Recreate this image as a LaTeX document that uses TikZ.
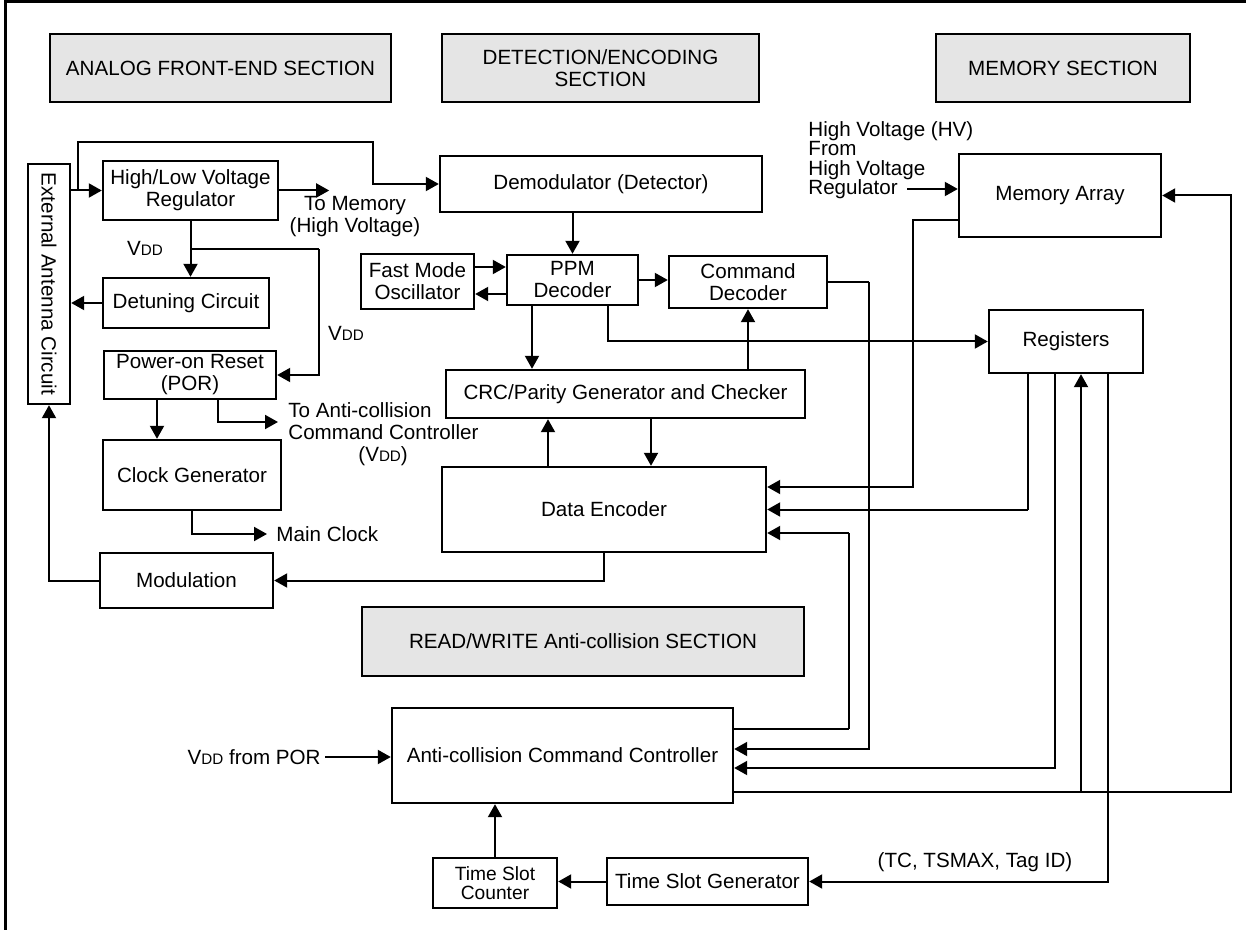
\documentclass[tikz,border=0pt]{standalone}
\usepackage{fontspec}
\setmainfont{Liberation Sans}
\usepackage{graphicx}
\usetikzlibrary{arrows.meta}
\definecolor{secgray}{gray}{0.9}
\newcommand{\vdd}{V{\fontsize{7.6}{8}\selectfont DD}}

\begin{document}
\begin{tikzpicture}[x=0.5pt,y=-0.5pt,
    box/.style={draw,line width=1.2pt,inner sep=0pt,align=center,font=\fontsize{10.3}{11}\selectfont},
    secbox/.style={box,fill=secgray},
    wire/.style={line width=1pt},
    thinwire/.style={line width=0.6pt},
    arr/.style={wire,-{Triangle[length=6.5pt,width=7pt]}},
    lbl/.style={inner sep=0pt,align=center,font=\fontsize{10.3}{11}\selectfont}]
    \useasboundingbox (0,0) rectangle (1246,930);

    % Frame (top and left edges)
    \draw[line width=1.5pt] (5,930) -- (5,2) -- (1246,2);

    % Section titles
    \foreach \nm/\cx/\cy/\w/\h/\txt in {
        secA/220.5/68/341/68/{ANALOG FRONT-END SECTION},
        secD/600.5/68/317/68/{DETECTION/ENCODING\\SECTION},
        secM/1063/68/254/68/{MEMORY SECTION},
        secR/583/641.5/442/69/{READ/WRITE Anti-collision SECTION}} {
        \node[secbox,minimum width=\w*0.5pt,minimum height=\h*0.5pt] (\nm) at (\cx,\cy) {\txt};
    }

    % Blocks
    \foreach \nm/\cx/\cy/\w/\h/\txt in {
        hlv/190.5/190.5/175/59/{High/Low Voltage\\Regulator},
        det/186/303/166/50/{Detuning Circuit},
        por/190/375/172/48/{Power-on Reset\\(POR)},
        clk/192/475/178/70/{Clock Generator},
        mod/186.5/580.5/173/55/{Modulation},
        demod/601/184/322/56/{Demodulator (Detector)},
        fmo/417.5/281.5/113/55/{Fast Mode\\Oscillator},
        ppm/572.5/280/131/50/{PPM\\Decoder},
        cmd/748/282/158/52/{Command\\Decoder},
        crc/625.5/394/359/48/{CRC/Parity Generator and Checker},
        enc/604/509.5/324/85/{Data Encoder},
        acc/562.5/755.5/341/95/{Anti-collision Command Controller},
        tsg/707.5/881.5/201/47/{Time Slot Generator},
        mem/1060/195.5/202/83/{Memory Array},
        reg/1066/341.5/154/63/{Registers}} {
        \node[box,minimum width=\w*0.5pt,minimum height=\h*0.5pt] (\nm) at (\cx,\cy) {\txt};
    }
    \node[box,font=\fontsize{9.6}{9.8}\selectfont,minimum width=62pt,minimum height=25pt] (tsc) at (495,883) {Time Slot\\Counter};
    \node[box,minimum width=21pt,minimum height=120pt] (ant) at (49,284) {\rotatebox{-90}{External Antenna Circuit}};

    % Free labels
    \node[lbl] (tomem) at (355,217) {To Memory\\(High Voltage)};
    \node[lbl] (vddA) at (145,248) {\vdd};
    \node[lbl] (vddB) at (346,333) {\vdd};
    \node[lbl,align=left,anchor=north west] (toacc) at (288,402) {To Anti-collision\\Command Controller\\\hspace*{35pt}(\vdd)};
    \node[lbl,anchor=west] (mclk) at (276,534) {Main Clock};
    \node[lbl,anchor=east] (vddpor) at (321,757) {\vdd{} from POR};
    \node[lbl,align=left,anchor=north west,font=\fontsize{10.3}{9.7}\selectfont] (hvnote) at (808,121) {High Voltage (HV)\\From\\High Voltage\\Regulator};
    \node[lbl] (tsnote) at (975,862) {(TC, TSMAX, Tag ID)};

    % Analog front-end
    \coordinate (j1) at (78,190.5);
    \coordinate (j2) at (190.5,249);
    \coordinate (k2) at (319,249);
    \draw[arr] (ant.east |- hlv) -- (hlv.west);
    \draw[arr] (j1) -- (78,142) -| (373,184) -- (demod.west);
    \draw[arr] (hlv.east) -- ++(50,0);
    \draw[arr] (hlv.south) -- (hlv.south |- det.north);
    \draw[thinwire] (j2) -- (k2);
    \draw[arr] (k2) |- (por.east);
    \draw[arr] (det.west) -- (det.west -| ant.east);
    \draw[arr] ([xshift=-16.5pt]por.south) -- ([xshift=-16.5pt]por.south |- clk.north);
    \draw[arr] ([xshift=14pt]por.south) |- (278,422);
    \draw[arr] (clk.south) |- (267,534);
    \draw[arr] (mod.west) -| (ant.south);
    \draw[arr] (enc.south) |- (mod.east);

    % Detection / encoding
    \draw[arr] (ppm.north |- demod.south) -- (ppm.north);
    \draw[arr] ([yshift=7.25pt]fmo.east) -- ([yshift=7.25pt]fmo.east -| ppm.west);
    \draw[arr] ([yshift=-7pt]ppm.west) -- ([yshift=-7pt]ppm.west -| fmo.east);
    \draw[arr] (ppm.east) -- (ppm.east -| cmd.west);
    \draw[arr] ([xshift=-20.25pt]ppm.south) -- ([xshift=-20.25pt]ppm.south |- crc.north);
    \draw[arr] (cmd.south |- crc.north) -- (cmd.south);
    \draw[arr] ([xshift=12.75pt]crc.south) -- ([xshift=12.75pt]crc.south |- enc.north);
    \draw[arr] ([xshift=-28pt]enc.north) -- ([xshift=-28pt]enc.north |- crc.south);
    \draw[arr] ([xshift=17.75pt]ppm.south) |- (reg.west);

    % Memory and anti-collision
    \coordinate (hvin) at (907,189);
    \coordinate (j3) at (1081,792);
    \coordinate (k3) at (869,282);
    \coordinate (k4) at (849,729);
    \coordinate (k5) at (849,533);
    \draw[arr] (hvin) -- ([yshift=3.25pt]mem.west);
    \draw[thinwire] (cmd.east) -- (k3);
    \draw[arr] (k3) |- ([yshift=3.25pt]acc.east);
    \draw[wire] ([yshift=13.25pt]acc.east) -- (k4);
    \draw[thinwire] (k4) -- (k5);
    \draw[arr] (k5) -- ([yshift=-11.75pt]enc.east);
    \draw[arr] ([yshift=-12.25pt]mem.west) -| (913,487) -- ([yshift=11.25pt]enc.east);
    \draw[thinwire] ([xshift=-19pt]reg.south) -- ([xshift=-19pt]reg.south |- enc.east);
    \draw[arr] ([xshift=-19pt]reg.south |- enc.east) -- (enc.east);
    \draw[arr] ([xshift=-5.5pt]reg.south) |- ([yshift=-6.25pt]acc.east);
    \draw[arr] ([yshift=-18.25pt]acc.east) -| (1231,195.5) -- (mem.east);
    \draw[arr] (j3) -- (j3 |- reg.south);
    \draw[arr] ([xshift=21pt]reg.south) |- (tsg.east);
    \draw[arr] (tsg.west) -- (tsg.west -| tsc.east);
    \draw[arr] (tsc.north) -- (tsc.north |- acc.south);
    \draw[arr] ([xshift=2pt]vddpor.east) -- (vddpor.east -| acc.west);
\end{tikzpicture}
\end{document}
